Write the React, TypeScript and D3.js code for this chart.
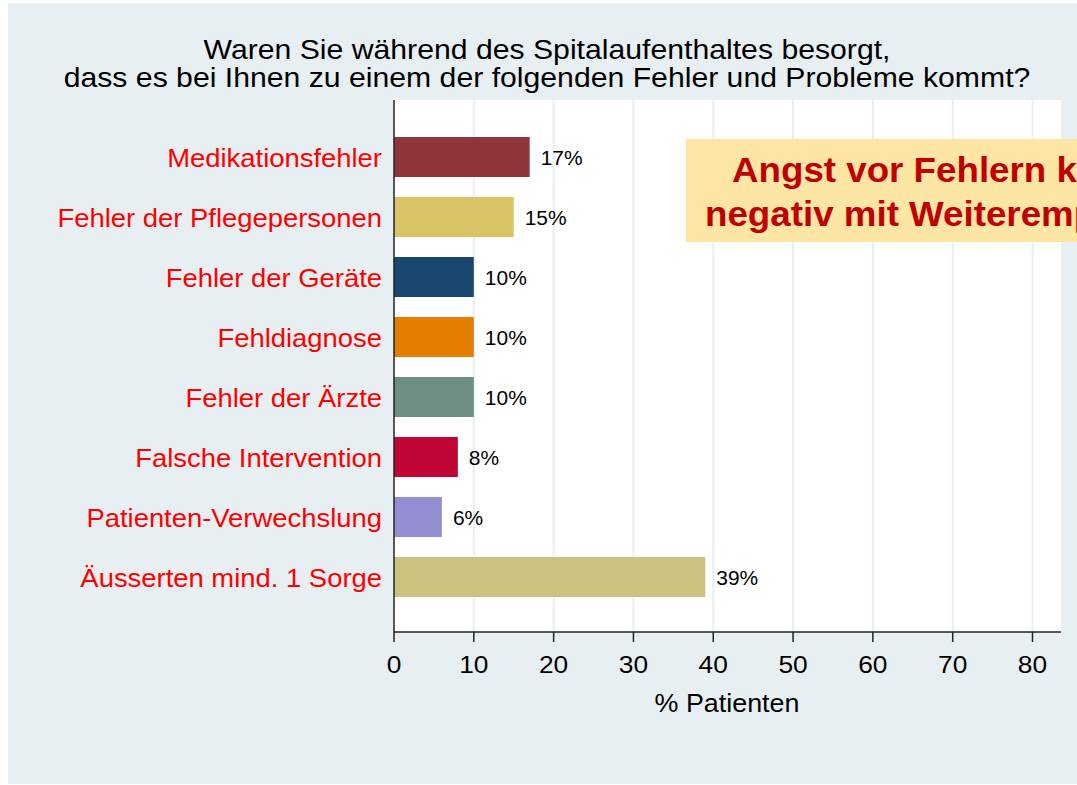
import * as d3 from "d3";

const W = 1077;
const H = 785;

// data
const categories = [
  "Medikationsfehler",
  "Fehler der Pflegepersonen",
  "Fehler der Geräte",
  "Fehldiagnose",
  "Fehler der Ärzte",
  "Falsche Intervention",
  "Patienten-Verwechslung",
  "Äusserten mind. 1 Sorge",
];
const values = [17, 15, 10, 10, 10, 8, 6, 39];
const barColors = [
  "#90353b",
  "#d9c366",
  "#1a476f",
  "#e37e00",
  "#6e8e84",
  "#c10534",
  "#938dd2",
  "#cac27e",
];
const xTicks = [0, 10, 20, 30, 40, 50, 60, 70, 80];
const titleLines = [
  "Waren Sie während des Spitalaufenthaltes besorgt,",
  "dass es bei Ihnen zu einem der folgenden Fehler und Probleme kommt?",
];
const noteLines = ["Angst vor Fehlern korreliert", "negativ mit Weiterempfehlung"];

const plot = { left: 394, right: 1061, top: 100, bottom: 632 };
const font = "'Liberation Sans', Arial, sans-serif";
const SX = 1.075; // the source picture is a bit wider than tall

// text that is stretched horizontally like the source
function T({ x, y, anchor = "start", size, fill = "#000", weight = "normal", sx = SX, children }: any) {
  return (
    <text
      transform={`translate(${x},${y}) scale(${sx},1)`}
      textAnchor={anchor}
      fontFamily={font}
      fontSize={size}
      fontWeight={weight}
      fill={fill}
    >
      {children}
    </text>
  );
}

export default function App() {
  const x = d3.scaleLinear().domain([0, 80]).range([394, 1032.5]);
  const y = d3
    .scaleBand()
    .domain(categories)
    .range([127, 607])
    .paddingInner(1 / 3)
    .paddingOuter(1 / 6);

  return (
    <svg
      width={W}
      height={H}
      style={{ position: "absolute", left: 0, top: 0, display: "block" }}
    >
      <rect x={0} y={0} width={W} height={H} fill="#ffffff" />
      <rect x={8} y={3} width={W - 8} height={781} fill="#e8eff2" />

      {/* title */}
      {titleLines.map((t, i) => (
        <T key={i} x={547} y={58.5 + i * 28.3} anchor="middle" size={28.1}>
          {t}
        </T>
      ))}

      {/* plot area */}
      <rect
        x={plot.left}
        y={plot.top}
        width={plot.right - plot.left}
        height={plot.bottom - plot.top}
        fill="#ffffff"
      />
      {xTicks.slice(1).map((t) => (
        <line
          key={t}
          x1={x(t)}
          x2={x(t)}
          y1={plot.top}
          y2={plot.bottom}
          stroke="#e6eff3"
          strokeWidth={2}
        />
      ))}

      {/* bars */}
      {categories.map((c, i) => {
        const cy = (y(c) as number) + y.bandwidth() / 2;
        return (
          <g key={c}>
            <rect
              x={x(0)}
              y={y(c)}
              width={x(values[i]) - x(0)}
              height={y.bandwidth()}
              fill={barColors[i]}
            />
            <T x={x(values[i]) + 11} y={cy + 8} size={19.5}>
              {values[i]}%
            </T>
            <T x={382} y={cy + 9.5} anchor="end" size={25.5} fill="#ff0000">
              {c}
            </T>
          </g>
        );
      })}

      {/* axes */}
      <line
        x1={plot.left}
        x2={plot.left}
        y1={plot.top}
        y2={plot.bottom}
        stroke="#222"
        strokeWidth={1.5}
      />
      <line
        x1={plot.left}
        x2={plot.right}
        y1={plot.bottom}
        y2={plot.bottom}
        stroke="#222"
        strokeWidth={1.5}
      />
      {xTicks.map((t) => (
        <g key={t}>
          <line
            x1={x(t)}
            x2={x(t)}
            y1={plot.bottom}
            y2={plot.bottom + 10}
            stroke="#222"
            strokeWidth={1.5}
          />
          <T x={x(t)} y={673} anchor="middle" size={24.5}>
            {t}
          </T>
        </g>
      ))}
      <T x={727} y={712} anchor="middle" size={25}>
        % Patienten
      </T>

      {/* annotation, cut at the right edge as in the source */}
      <rect x={686} y={139} width={W - 686} height={103} fill="#fde6a3" />
      {noteLines.map((t, i) => (
        <T
          key={i}
          x={i === 0 ? 732 : 705}
          y={182 + i * 44}
          size={35.5}
          weight="bold"
          fill="#c00000"
          sx={1.035}
        >
          {t}
        </T>
      ))}
    </svg>
  );
}
